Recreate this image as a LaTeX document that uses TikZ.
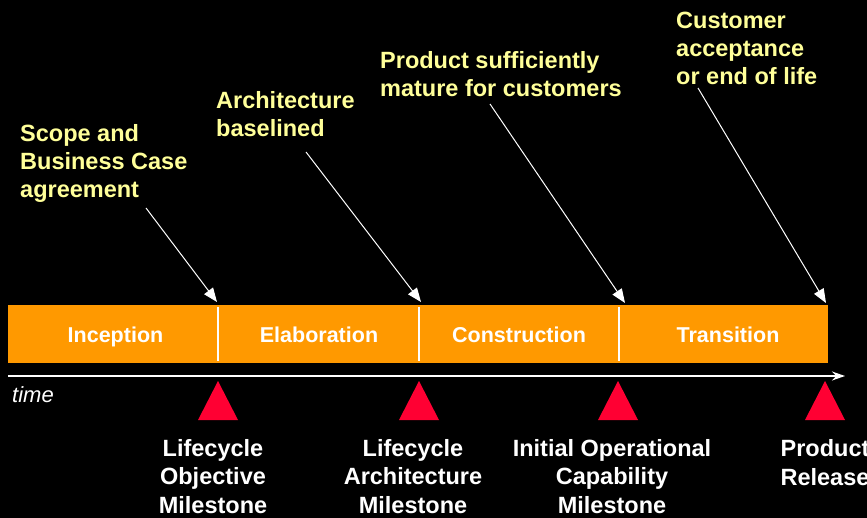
\documentclass[tikz,border=0pt]{standalone}
\usepackage{fontspec}
\setmainfont{Liberation Sans}
\usetikzlibrary{arrows.meta}
\definecolor{barorange}{RGB}{255,153,0}
\definecolor{msred}{RGB}{255,0,51}
\definecolor{noteyellow}{RGB}{255,255,153}
\begin{document}
\begin{tikzpicture}[x=1pt,y=-1pt,
  note/.style={text=noteyellow,font=\fontsize{23.5}{28}\selectfont\bfseries,align=left,anchor=base west,inner sep=0pt},
  phase/.style={text=white,font=\fontsize{21.5}{26}\selectfont\bfseries,anchor=base,inner sep=0pt},
  mslabel/.style={text=white,font=\fontsize{23.5}{28.3}\selectfont\bfseries,align=center,anchor=base,inner sep=0pt},
  pointer/.style={draw=white,line width=1pt,-{Triangle[length=14pt,width=11pt]}},
  milestone/.style={fill=msred,draw=none},
  divider/.style={draw=white,line width=2pt},
  timeline/.style={draw=white,line width=1.5pt,-{Stealth[length=13pt,width=9pt]}}]
\useasboundingbox[fill=black] (0,0) rectangle (867,518);

% phase bar
\fill[barorange] (8,305) rectangle (828,363);
\node[phase] (inc) at (115.5,342) {Inception};
\node[phase] (ela) at (319,342) {Elaboration};
\node[phase] (con) at (519,342) {Construction};
\node[phase] (tra) at (728,342) {Transition};

% dividers
\draw[divider] (218,307) -- (218,361);
\draw[divider] (419,307) -- (419,361);
\draw[divider] (619,307) -- (619,361);

% time axis
\coordinate (t0) at (8,376);
\coordinate (t1) at (845,376);
\draw[timeline] (t0) -- (t1);
\node[text=white,font=\fontsize{22}{26}\selectfont\itshape,anchor=base west,inner sep=0pt] (time) at (12,402) {time};

% milestones
\coordinate (ms1) at (218,381);
\coordinate (ms2) at (419,381);
\coordinate (ms3) at (618,381);
\coordinate (ms4) at (825,381);
\foreach \m in {ms1,ms2,ms3,ms4}{
  \fill[milestone] (\m) -- ++(20,39) -- ++(-40,0) -- cycle;
}

\node[mslabel] (l1) at (213,513) {Lifecycle\\Objective\\Milestone};
\node[mslabel] (l2) at (413,513) {Lifecycle\\Architecture\\Milestone};
\node[mslabel] (l3) at (612,513) {Initial Operational\\Capability\\Milestone};
\node[mslabel] (l4) at (825,485) {Product\\Release};

% notes
\node[note] (n1) at (20,198) {Scope and\\Business Case\\agreement};
\node[note] (n2) at (216,137) {Architecture\\baselined};
\node[note] (n3) at (380,97) {Product sufficiently\\mature for customers};
\node[note] (n4) at (676,85) {Customer\\acceptance\\or end of life};

% pointers
\coordinate (p1s) at (146,208); \coordinate (p1e) at (217,302);
\coordinate (p2s) at (306,152); \coordinate (p2e) at (421,302);
\coordinate (p3s) at (490,104); \coordinate (p3e) at (625,303);
\coordinate (p4s) at (698,88);  \coordinate (p4e) at (826,303);
\draw[pointer] (p1s) -- (p1e);
\draw[pointer] (p2s) -- (p2e);
\draw[pointer] (p3s) -- (p3e);
\draw[pointer] (p4s) -- (p4e);
\end{tikzpicture}
\end{document}
